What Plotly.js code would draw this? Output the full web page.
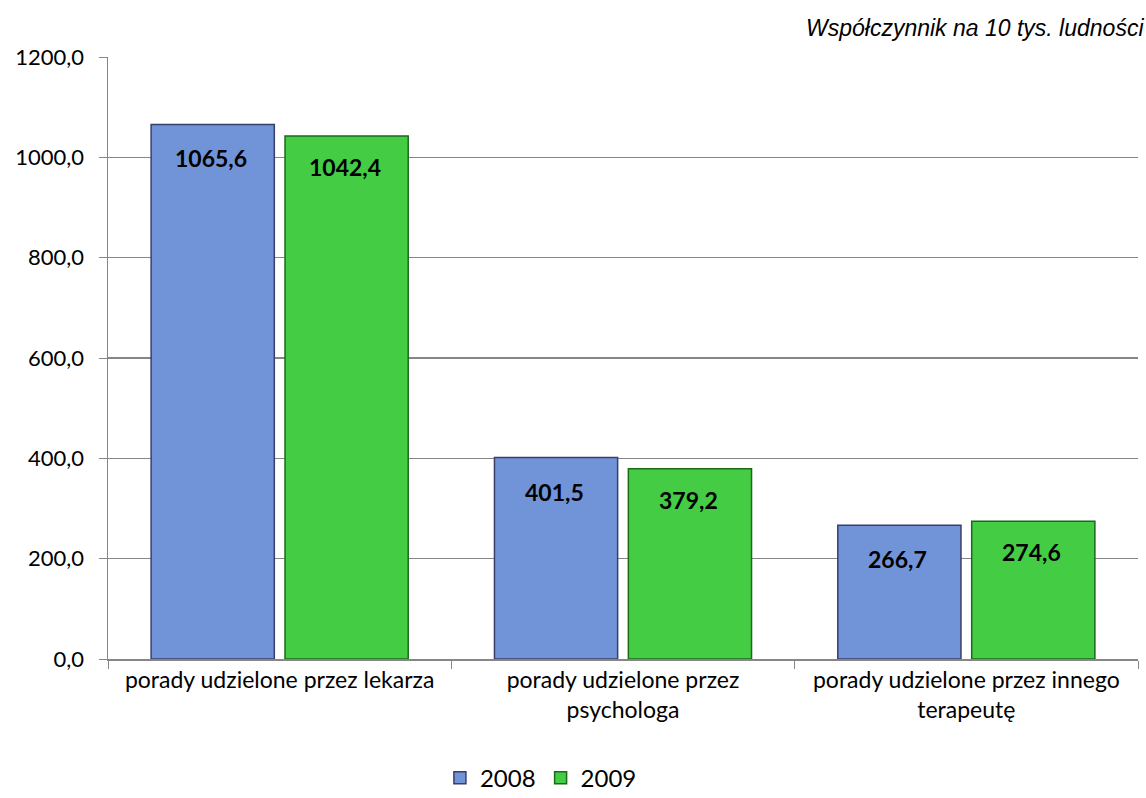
<!DOCTYPE html>
<html><head><meta charset="utf-8">
<script src="https://cdn.plot.ly/plotly-3.0.1.min.js"></script>
<style>html,body{margin:0;padding:0;background:#fff}</style>
</head><body>
<div id="chart" style="width:1146px;height:798px"></div>
<script>
const categories = ["porady udzielone przez lekarza", "porady udzielone przez<br>psychologa", "porady udzielone przez innego<br>terapeutę"];
const values2008 = [1065.6, 401.5, 266.7];
const values2009 = [1042.4, 379.2, 274.6];
const seriesNames = ["2008", "2009"];
const labels2008 = ["1065,6", "401,5", "266,7"];
const labels2009 = ["1042,4", "379,2", "274,6"];

const font = "Lato, 'Open Sans', sans-serif";
const traces = [
  {type:'bar', name:seriesNames[0], x:categories, y:values2008,
   marker:{color:'#7193d8', line:{color:'#3a3f6a', width:1.5}}, hoverinfo:'y'},
  {type:'bar', name:seriesNames[1], x:categories, y:values2009,
   marker:{color:'#45cc45', line:{color:'#1a6a1a', width:1.5}}, hoverinfo:'y'}
];
const annotations = [];
categories.forEach((c,i)=>{
  annotations.push({x:c, y:values2008[i], xref:'x', yref:'y', text:'<b>'+labels2008[i]+'</b>', showarrow:false,
    xshift:-69, yshift:-34, font:{family:font,size:23,color:'#000'}});
  annotations.push({x:c, y:values2009[i], xref:'x', yref:'y', text:'<b>'+labels2009[i]+'</b>', showarrow:false,
    xshift:65, yshift:-31, font:{family:font,size:23,color:'#000'}});
});
annotations.push({xref:'paper', yref:'paper', x:1.0, y:1, xanchor:'right', yanchor:'bottom', yshift:14, xshift:8,
  text:'<i>Współczynnik na 10 tys. ludności</i>', showarrow:false,
  font:{family:"'Liberation Sans', Arial, sans-serif", size:23, color:'#000'}});

const layout = {
  width:1146, height:798,
  margin:{l:108, r:8, t:57, b:139, autoexpand:false},
  paper_bgcolor:'#fff', plot_bgcolor:'#fff',
  barmode:'group', bargap:0.22, bargroupgap:0.08,
  separators:',.',
  font:{family:font, size:22, color:'#000'},
  xaxis:{type:'category', showline:true, linecolor:'#868686', linewidth:1.5,
    ticks:'outside', tickson:'boundaries', ticklen:8, tickcolor:'#868686',
    tickfont:{family:font,size:23,color:'#000'}, showgrid:false, automargin:false},
  yaxis:{range:[0,1200], dtick:200, tickformat:'.1f', showline:true, linecolor:'#868686', linewidth:1.5,
    ticks:'outside', ticklen:8, tickcolor:'#868686', gridcolor:'#868686', gridwidth:1.2,
    tickfont:{family:font,size:22,color:'#000'}, zeroline:false, automargin:false, ticklabelstandoff:10},
  showlegend:true,
  legend:{orientation:'h', x:0.472, xanchor:'center', xref:'container', y:0.025, yanchor:'middle', yref:'container',
    font:{family:font,size:24,color:'#000'}, itemwidth:30},
  annotations:annotations
};
Plotly.newPlot('chart', traces, layout, {displayModeBar:false, staticPlot:true});
</script>
</body></html>
